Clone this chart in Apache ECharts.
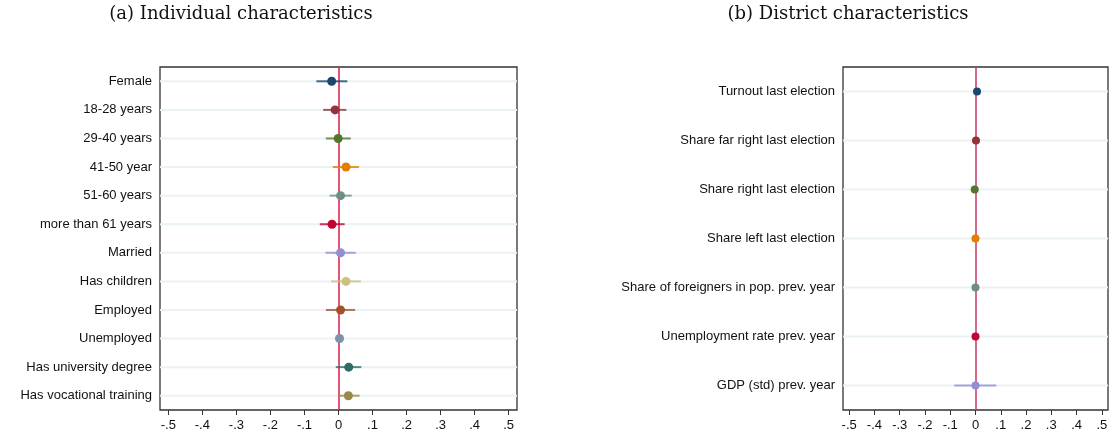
<!DOCTYPE html>
<html>
<head>
<meta charset="utf-8">
<script src="https://cdn.jsdelivr.net/npm/echarts@6/dist/echarts.min.js"></script>
<style>
html, body { margin: 0; padding: 0; background: #fff; }
#main { width: 1113px; height: 439px; }
</style>
</head>
<body>
<div id="main"></div>
<script>
// (a) individual characteristics
var labelsA = ['Female', '18-28 years', '29-40 years', '41-50 year', '51-60 years', 'more than 61 years',
  'Married', 'Has children', 'Employed', 'Unemployed', 'Has university degree', 'Has vocational training'];
var coefA = [-0.020, -0.010, -0.001, 0.022, 0.006, -0.019, 0.006, 0.022, 0.006, 0.003, 0.030, 0.029];
var loA = [-0.065, -0.045, -0.037, -0.017, -0.026, -0.055, -0.038, -0.022, -0.037, -0.009, -0.008, -0.001];
var hiA = [0.026, 0.023, 0.036, 0.060, 0.039, 0.018, 0.051, 0.066, 0.049, 0.015, 0.067, 0.062];

// (b) district characteristics
var labelsB = ['Turnout last election', 'Share far right last election', 'Share right last election',
  'Share left last election', 'Share of foreigners in pop. prev. year', 'Unemployment rate prev. year',
  'GDP (std) prev. year'];
var coefB = [0.006, 0.002, -0.003, 0.000, 0.000, 0.000, 0.000];
var loB = [0.002, -0.002, -0.007, -0.004, -0.004, -0.004, -0.084];
var hiB = [0.010, 0.006, 0.001, 0.004, 0.004, 0.004, 0.082];

var xTicks = [-0.5, -0.4, -0.3, -0.2, -0.1, 0, 0.1, 0.2, 0.3, 0.4, 0.5];

// stata s2color
var palette = ['#1a476f', '#90353b', '#55752f', '#e37e00', '#6e8e84', '#c10534',
  '#938dd2', '#cac27e', '#a0522d', '#7b92a8', '#2d6d66', '#9c8847'];

var font = 'Liberation Sans, Arial, sans-serif';

function fmt(v) {
  if (Math.abs(v) < 1e-9) return '0';
  var s = (Math.round(v * 10) / 10).toString();
  return s.replace('0.', '.');
}

function xAxisOpt(gi) {
  return {
    type: 'value', gridIndex: gi, min: -0.5245, max: 0.5245,
    axisLine: { show: false },
    splitLine: { show: false },
    axisTick: { show: true, length: 5, customValues: xTicks, lineStyle: { color: '#333' } },
    axisLabel: { customValues: xTicks, formatter: fmt, margin: 9, color: '#111', fontSize: 13, fontFamily: font }
  };
}

function yAxisOpt(gi, labels) {
  return {
    type: 'category', gridIndex: gi, data: labels, inverse: true,
    axisLine: { show: false },
    splitLine: { show: false },
    axisTick: { show: true, alignWithLabel: true, length: 4, lineStyle: { color: '#333' } },
    axisLabel: { margin: 8, color: '#111', fontSize: 13, fontFamily: font }
  };
}

function gridSeries(gi, n) {
  var d = [];
  for (var i = 0; i < n; i++) d.push([0, i]);
  return {
    type: 'custom', xAxisIndex: gi, yAxisIndex: gi, z: 1, silent: true,
    data: d,
    renderItem: function (params, api) {
      var y = api.coord([0, api.value(1)])[1];
      var cs = params.coordSys;
      return { type: 'line', shape: { x1: cs.x, y1: y, x2: cs.x + cs.width, y2: y },
        style: { stroke: '#eaf2f3', lineWidth: 2 } };
    }
  };
}

function ciSeries(gi, lo, hi, lw) {
  var d = [];
  for (var i = 0; i < lo.length; i++) d.push([lo[i], hi[i], i]);
  return {
    type: 'custom', xAxisIndex: gi, yAxisIndex: gi, z: 3, silent: true,
    data: d, encode: { x: [0, 1], y: 2 },
    renderItem: function (params, api) {
      var a = api.coord([api.value(0), api.value(2)]);
      var b = api.coord([api.value(1), api.value(2)]);
      return { type: 'line', shape: { x1: a[0], y1: a[1], x2: b[0], y2: b[1] },
        style: { stroke: palette[params.dataIndex], lineWidth: lw, opacity: 0.8 } };
    }
  };
}

function dotSeries(gi, coef, size, zeroColor) {
  return {
    type: 'scatter', xAxisIndex: gi, yAxisIndex: gi, z: 4, symbolSize: size,
    data: coef.map(function (v, i) { return { value: [v, i], itemStyle: { color: palette[i], opacity: 1 } }; }),
    markLine: {
      silent: true, symbol: 'none', z: 2,
      label: { show: false },
      lineStyle: { color: zeroColor, width: 1.6, type: 'solid' },
      data: [{ xAxis: 0 }]
    }
  };
}

var titleFont = 'DejaVu Serif, Liberation Serif, serif';

var option = {
  backgroundColor: '#fff',
  animation: false,
  graphic: [
    { type: 'text', x: 241, y: 14, style: { text: '(a) Individual characteristics', fontFamily: titleFont, fontSize: 18, fill: '#111', textAlign: 'center', textVerticalAlign: 'middle' } },
    { type: 'text', x: 848, y: 14, style: { text: '(b) District characteristics', fontFamily: titleFont, fontSize: 18, fill: '#111', textAlign: 'center', textVerticalAlign: 'middle' } }
  ],
  grid: [
    { left: 160, right: 596, top: 67, bottom: 29, show: true, borderColor: '#333', borderWidth: 1.3, backgroundColor: '#fff' },
    { left: 843, right: 5, top: 67, bottom: 29, show: true, borderColor: '#333', borderWidth: 1.3, backgroundColor: '#fff' }
  ],
  xAxis: [xAxisOpt(0), xAxisOpt(1)],
  yAxis: [yAxisOpt(0, labelsA), yAxisOpt(1, labelsB)],
  series: [
    gridSeries(0, labelsA.length),
    gridSeries(1, labelsB.length),
    ciSeries(0, loA, hiA, 2),
    ciSeries(1, loB, hiB, 2),
    dotSeries(0, coefA, 9, '#dc2a55'),
    dotSeries(1, coefB, 8, '#cc4570')
  ]
};

var myChart = echarts.init(document.getElementById('main'));
myChart.setOption(option);
</script>
</body>
</html>
